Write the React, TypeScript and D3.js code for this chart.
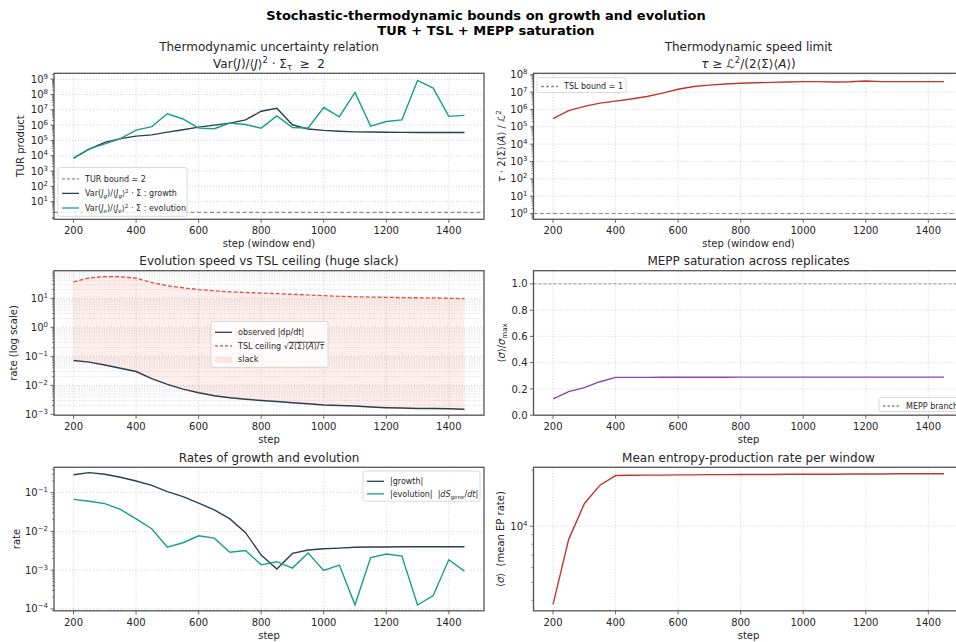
import React from 'react';
import * as d3 from 'd3';

const STEPS = [200, 250, 300, 350, 400, 450, 500, 550, 600, 650, 700, 750, 800, 850, 900, 950, 1000, 1050, 1100, 1150, 1200, 1250, 1300, 1350, 1400, 1450];
const X_TICKS = [200, 400, 600, 800, 1000, 1200, 1400];

const TUR_GROWTH = [7e3, 2.7e4, 7.4e4, 1.3e5, 1.9e5, 2.3e5, 3.5e5, 5e5, 7.4e5, 1e6, 1.35e6, 2.2e6, 8e6, 1.25e7, 1.05e6, 5.5e5, 4.5e5, 4e5, 3.6e5, 3.5e5, 3.4e5, 3.35e5, 3.3e5, 3.3e5, 3.3e5, 3.25e5];
const TUR_EVOL = [7e3, 2.8e4, 6e4, 1.3e5, 4.7e5, 8e5, 5.5e6, 2.5e6, 6.3e5, 5.8e5, 1.35e6, 1.1e6, 6.3e5, 4e6, 7e5, 6.5e5, 1.4e7, 3.5e6, 1.35e8, 8.5e5, 1.7e6, 2.2e6, 8.2e8, 2.6e8, 3.7e6, 4.3e6];
const TUR_BOUND = 2;

const TSL_PRODUCT = [2.9e5, 8.5e5, 1.5e6, 2.3e6, 3e6, 4e6, 5.5e6, 8.7e6, 1.45e7, 2.1e7, 2.5e7, 2.9e7, 3.2e7, 3.45e7, 3.6e7, 3.8e7, 4e7, 4e7, 3.8e7, 3.9e7, 4.3e7, 4e7, 4e7, 4e7, 4e7, 4e7];
const TSL_BOUND = 1;

const CEILING = [37, 50, 56, 55, 49, 35, 27, 23, 20, 18, 16.6, 15.8, 15, 14.5, 13.7, 13, 12.3, 11.7, 11.3, 11, 10.8, 10.5, 10.4, 10.3, 10, 9.7];
const OBSERVED = [0.072, 0.063, 0.05, 0.039, 0.03, 0.017, 0.0108, 0.0074, 0.0055, 0.0044, 0.0037, 0.0033, 0.003, 0.00275, 0.0025, 0.0023, 0.0021, 0.002, 0.00195, 0.0018, 0.0017, 0.00165, 0.0016, 0.00158, 0.00155, 0.0015];

const MEPP = [0.125, 0.18, 0.21, 0.255, 0.288, 0.288, 0.288, 0.289, 0.289, 0.289, 0.289, 0.289, 0.29, 0.29, 0.29, 0.29, 0.29, 0.29, 0.29, 0.29, 0.29, 0.29, 0.29, 0.29, 0.29, 0.29];
const MEPP_BRANCH = 1.0;
const MEPP_TICKS = [0, 0.2, 0.4, 0.6, 0.8, 1.0];

const RATE_GROWTH = [0.29, 0.33, 0.3, 0.25, 0.2, 0.155, 0.106, 0.079, 0.054, 0.036, 0.021, 0.0093, 0.00245, 0.00107, 0.0027, 0.0033, 0.00355, 0.0037, 0.0039, 0.00395, 0.00395, 0.004, 0.004, 0.004, 0.004, 0.004];
const RATE_EVOL = [0.067, 0.06, 0.052, 0.037, 0.021, 0.0117, 0.0039, 0.0051, 0.0077, 0.0067, 0.0029, 0.0032, 0.00137, 0.00165, 0.00113, 0.00275, 0.00098, 0.00135, 0.000127, 0.0021, 0.0026, 0.0023, 0.000126, 0.00022, 0.00185, 0.00094];

const EP_RATE = [3810, 8500, 13200, 16600, 18700, 18750, 18800, 18800, 18850, 18850, 18900, 18900, 18950, 18950, 18950, 19000, 19000, 19000, 19000, 19050, 19050, 19050, 19100, 19100, 19100, 19100];

const FONT = "'DejaVu Sans', 'Liberation Sans', sans-serif";
const C_NAVY = '#2c3e50';
const C_TEAL = '#16a085';
const C_RED = '#c0392b';
const C_CEIL = '#e74c3c';
const C_PURPLE = '#8e44ad';
const C_GRAY = '#8c8c8c';
const C_TEXT = '#262626';
const C_SPINE = '#555555';
const NB = '\u00a0';

type Part = { t: string; s?: 'sub' | 'sup'; i?: boolean; o?: boolean };

function rich(parts: Part[], size: number) {
  let cur = 0;
  return parts.map((p, k) => {
    const target = p.s === 'sup' ? -0.4 * size : p.s === 'sub' ? 0.22 * size : 0;
    const dy = target - cur;
    cur = target;
    return (
      <tspan key={k} dy={dy} fontSize={p.s ? size * 0.7 : undefined} fontStyle={p.i ? 'italic' : undefined}
        textDecoration={p.o ? 'overline' : undefined}>{p.t}</tspan>
    );
  });
}

type Box = { x0: number; x1: number; y0: number; y1: number };

const sup = (b: string, e: string): Part[] => [{ t: b }, { t: e, s: 'sup' }];
const pow10 = (e: number): Part[] => sup('10', e < 0 ? '\u2212' + Math.abs(e) : String(e));

function minorLog(lo: number, hi: number) {
  const out: number[] = [];
  for (let e = Math.floor(lo) - 1; e <= Math.ceil(hi); e++) {
    for (let k = 2; k <= 9; k++) {
      const v = k * Math.pow(10, e);
      const lv = Math.log10(v);
      if (lv >= lo && lv <= hi) out.push(v);
    }
  }
  return out;
}

type YTick = { v: number; label: Part[] };

function Axes(props: {
  id: string; box: Box; x: d3.ScaleLinear<number, number>; y: (v: number) => number;
  yTicks: YTick[]; yMinor?: number[]; minorGrid?: boolean;
  title: Part[][]; xlabel: string; ylabel: Part[]; ylabelX: number; children?: React.ReactNode;
}) {
  const { id, box, x, y, yTicks, yMinor = [], minorGrid, title, xlabel, ylabel, ylabelX, children } = props;
  const cx = (box.x0 + box.x1) / 2;
  const cy = (box.y0 + box.y1) / 2;
  const gridStyle = { stroke: '#b8b8b8', strokeWidth: 0.8, strokeDasharray: '1,2', opacity: 0.8 };
  return (
    <g>
      <defs>
        <clipPath id={id}>
          <rect x={box.x0} y={box.y0} width={box.x1 - box.x0} height={box.y1 - box.y0} />
        </clipPath>
      </defs>
      <rect x={box.x0} y={box.y0} width={box.x1 - box.x0} height={box.y1 - box.y0} fill="#fff" />
      <g clipPath={`url(#${id})`}>
        {X_TICKS.map(t => <line key={'gx' + t} x1={x(t)} x2={x(t)} y1={box.y0} y2={box.y1} {...gridStyle} />)}
        {yTicks.map(t => <line key={'gy' + t.v} x1={box.x0} x2={box.x1} y1={y(t.v)} y2={y(t.v)} {...gridStyle} />)}
        {minorGrid && yMinor.map(v => <line key={'gm' + v} x1={box.x0} x2={box.x1} y1={y(v)} y2={y(v)} stroke="#c4c4c4" strokeWidth={0.7} strokeDasharray="1,1.5" opacity={0.8} />)}
        {children}
      </g>
      <rect x={box.x0} y={box.y0} width={box.x1 - box.x0} height={box.y1 - box.y0} fill="none" stroke={C_SPINE} strokeWidth={1.3} />
      {X_TICKS.map(t => (
        <g key={'tx' + t}>
          <line x1={x(t)} x2={x(t)} y1={box.y1} y2={box.y1 + 3.5} stroke={C_SPINE} strokeWidth={0.9} />
          <text x={x(t)} y={box.y1 + 15} textAnchor="middle" fontSize={10} fill={C_TEXT}>{t}</text>
        </g>
      ))}
      {yMinor.map(v => <line key={'tm' + v} x1={box.x0 - 2} x2={box.x0} y1={y(v)} y2={y(v)} stroke={C_SPINE} strokeWidth={0.7} />)}
      {yTicks.map(t => (
        <g key={'ty' + t.v}>
          <line x1={box.x0 - 3.5} x2={box.x0} y1={y(t.v)} y2={y(t.v)} stroke={C_SPINE} strokeWidth={0.9} />
          <text x={box.x0 - 6} y={y(t.v) + 3.6} textAnchor="end" fontSize={10} fill={C_TEXT}>{rich(t.label, 10)}</text>
        </g>
      ))}
      {title.map((line, k) => (
        <text key={'tt' + k} x={cx} y={box.y0 - 5.5 - (title.length - 1 - k) * 16.5} textAnchor="middle" fontSize={12} fill={C_TEXT}>{rich(line, 12)}</text>
      ))}
      <text x={cx} y={box.y1 + 28} textAnchor="middle" fontSize={10} fill={C_TEXT}>{xlabel}</text>
      <text transform={`translate(${ylabelX + 3.5},${cy}) rotate(-90)`} textAnchor="middle" fontSize={10} fill={C_TEXT}>{rich(ylabel, 10)}</text>
    </g>
  );
}

type LegItem = { kind: 'line' | 'dash' | 'patch'; color: string; label: Part[]; dash?: string };

function Legend(props: { x: number; y: number; w: number; rowH: number; items: LegItem[]; size?: number }) {
  const { x, y, w, rowH, items, size = 8 } = props;
  const h = items.length * rowH + 5;
  return (
    <g>
      <rect x={x} y={y} width={w} height={h} rx={2} fill="#fff" fillOpacity={0.8} stroke="#d0d0d0" strokeWidth={0.8} />
      {items.map((it, k) => {
        const cy = y + 4 + rowH * k + rowH / 2;
        return (
          <g key={k}>
            {it.kind === 'patch'
              ? <rect x={x + 4} y={cy - 3} width={17} height={6} fill={it.color} fillOpacity={0.12} />
              : <line x1={x + 4} x2={x + 21} y1={cy} y2={cy} stroke={it.color} strokeWidth={1.3} strokeDasharray={it.dash} />}
            <text x={x + 27} y={cy + 2.9} fontSize={size} fill={C_TEXT}>{rich(it.label, size)}</text>
          </g>
        );
      })}
    </g>
  );
}

export default function App() {
  const W = 956, H = 642;
  const L: [number, number] = [54, 484];
  const R: [number, number] = [533.5, 963.5];
  const xDom: [number, number] = [137.5, 1512.5];
  const xL = d3.scaleLinear().domain(xDom).range(L);
  const xR = d3.scaleLinear().domain(xDom).range(R);
  const row1 = { y0: 73.3, y1: 219.3 };
  const row2 = { y0: 270.7, y1: 415.2 };
  const row3 = { y0: 467.3, y1: 610.8 };

  const bTL: Box = { x0: L[0], x1: L[1], ...row1 };
  const bTR: Box = { x0: R[0], x1: R[1], ...row1 };
  const bML: Box = { x0: L[0], x1: L[1], ...row2 };
  const bMR: Box = { x0: R[0], x1: R[1], ...row2 };
  const bBL: Box = { x0: L[0], x1: L[1], ...row3 };
  const bBR: Box = { x0: R[0], x1: R[1], ...row3 };

  const logY = (lo: number, hi: number, b: Box) => d3.scaleLog().domain([Math.pow(10, lo), Math.pow(10, hi)]).range([b.y1, b.y0]);
  const yTL = logY(-0.15, 9.38, bTL);
  const yTR = logY(-0.33, 8.08, bTR);
  const yML = logY(-3.03, 1.95, bML);
  const yBL = logY(-4.05, -0.345, bBL);
  const yBR = logY(3.546, 4.316, bBR);
  const yMR = d3.scaleLinear().domain([0, 1.1]).range([bMR.y1, bMR.y0]);

  const decades = (a: number, b: number): YTick[] => d3.range(a, b + 1).map(e => ({ v: Math.pow(10, e), label: pow10(e) }));

  const path = (x: (v: number) => number, y: (v: number) => number, vals: number[]) =>
    d3.line<number>().x((_, i) => x(STEPS[i])).y(d => y(d))(vals) || '';

  const area = d3.area<number>()
    .x((_, i) => xL(STEPS[i]))
    .y0((_, i) => yML(OBSERVED[i]))
    .y1(d => yML(d))(CEILING) || '';

  return (
    <svg width={W} height={H} style={{ position: 'absolute', left: 0, top: 0, fontFamily: FONT }} fontFamily={FONT}>
      <rect width={W} height={H} fill="#fff" />
      <text x={486} y={20} textAnchor="middle" fontSize={13} fontWeight="bold" fill="#000">Stochastic-thermodynamic bounds on growth and evolution</text>
      <text x={486} y={35} textAnchor="middle" fontSize={13} fontWeight="bold" fill="#000">TUR + TSL + MEPP saturation</text>

      {/* Top-left: TUR */}
      <Axes id="c1" box={bTL} x={xL} y={yTL} yTicks={decades(1, 9)} yMinor={minorLog(-0.15, 9.38)}
        title={[[{ t: 'Thermodynamic uncertainty relation' }], [{ t: 'Var(' }, { t: 'J', i: true }, { t: ')/\u27e8' }, { t: 'J', i: true }, { t: '\u27e9' }, { t: '2', s: 'sup' }, { t: ' \u00b7 \u03a3' }, { t: '\u03c4', s: 'sub' }, { t: NB + NB + '\u2265' + NB + NB + '2' }]]}
        xlabel="step (window end)" ylabel={[{ t: 'TUR product' }]} ylabelX={20.5}>
        <line x1={bTL.x0} x2={bTL.x1} y1={yTL(TUR_BOUND)} y2={yTL(TUR_BOUND)} stroke={C_GRAY} strokeWidth={1.1} strokeDasharray="4,2.5" />
        <path d={path(xL, yTL, TUR_GROWTH)} fill="none" stroke={C_NAVY} strokeWidth={1.4} />
        <path d={path(xL, yTL, TUR_EVOL)} fill="none" stroke={C_TEAL} strokeWidth={1.4} />
      </Axes>
      <Legend x={58} y={167.5} w={129} rowH={14.6} items={[
        { kind: 'dash', color: C_GRAY, dash: '3,2', label: [{ t: 'TUR bound = 2' }] },
        { kind: 'line', color: C_NAVY, label: [{ t: 'Var(' }, { t: 'J', i: true }, { t: 'g', s: 'sub', i: true }, { t: ')/\u27e8' }, { t: 'J', i: true }, { t: 'g', s: 'sub', i: true }, { t: '\u27e9' }, { t: '2', s: 'sup' }, { t: ' \u00b7 \u03a3 : growth' }] },
        { kind: 'line', color: C_TEAL, label: [{ t: 'Var(' }, { t: 'J', i: true }, { t: 'e', s: 'sub', i: true }, { t: ')/\u27e8' }, { t: 'J', i: true }, { t: 'e', s: 'sub', i: true }, { t: '\u27e9' }, { t: '2', s: 'sup' }, { t: ' \u00b7 \u03a3 : evolution' }] },
      ]} />

      {/* Top-right: TSL */}
      <Axes id="c2" box={bTR} x={xR} y={yTR} yTicks={decades(0, 8)} yMinor={minorLog(-0.33, 8.08)}
        title={[[{ t: 'Thermodynamic speed limit' }], [{ t: '\u03c4', i: true }, { t: ' \u2265 ' }, { t: '\u2112', i: true }, { t: '2', s: 'sup' }, { t: '/(2\u27e8\u03a3\u27e9\u27e8' }, { t: 'A', i: true }, { t: '\u27e9)' }]]}
        xlabel="step (window end)" ylabel={[{ t: '\u03c4', i: true }, { t: ' \u00b7 2\u27e8\u03a3\u27e9\u27e8' }, { t: 'A', i: true }, { t: '\u27e9 / ' }, { t: '\u2112', i: true }, { t: '2', s: 'sup' }]} ylabelX={501.5}>
        <line x1={bTR.x0} x2={bTR.x1} y1={yTR(TSL_BOUND)} y2={yTR(TSL_BOUND)} stroke={C_GRAY} strokeWidth={1.1} strokeDasharray="4,2.5" />
        <path d={path(xR, yTR, TSL_PRODUCT)} fill="none" stroke={C_RED} strokeWidth={1.4} />
      </Axes>
      <Legend x={537} y={77.5} w={89} rowH={10} items={[
        { kind: 'dash', color: C_GRAY, dash: '3,2', label: [{ t: 'TSL bound = 1' }] },
      ]} />

      {/* Middle-left */}
      <Axes id="c3" box={bML} x={xL} y={yML} yTicks={decades(-3, 1)} yMinor={minorLog(-3.03, 1.95)} minorGrid
        title={[[{ t: 'Evolution speed vs TSL ceiling (huge slack)' }]]}
        xlabel="step" ylabel={[{ t: 'rate (log scale)' }]} ylabelX={13.3}>
        <path d={area} fill={C_CEIL} fillOpacity={0.1} />
        <path d={path(xL, yML, CEILING)} fill="none" stroke={C_CEIL} strokeWidth={1.3} strokeDasharray="4,2" />
        <path d={path(xL, yML, OBSERVED)} fill="none" stroke={C_NAVY} strokeWidth={1.5} />
      </Axes>
      <Legend x={211} y={321.5} w={117} rowH={13.6} items={[
        { kind: 'line', color: C_NAVY, label: [{ t: 'observed |dp/dt|' }] },
        { kind: 'dash', color: C_CEIL, dash: '3,2', label: [{ t: 'TSL ceiling \u221a' }, { t: '2\u27e8\u03a3\u27e9\u27e8', o: true }, { t: 'A', i: true, o: true }, { t: '\u27e9/', o: true }, { t: '\u03c4', i: true, o: true }] },
        { kind: 'patch', color: C_CEIL, label: [{ t: 'slack' }] },
      ]} />

      {/* Middle-right */}
      <Axes id="c4" box={bMR} x={xR} y={yMR} yTicks={MEPP_TICKS.map(v => ({ v, label: [{ t: v.toFixed(1) }] }))}
        title={[[{ t: 'MEPP saturation across replicates' }]]}
        xlabel="step" ylabel={[{ t: '\u27e8' }, { t: '\u03c3', i: true }, { t: '\u27e9/' }, { t: '\u03c3', i: true }, { t: 'max', s: 'sub' }]} ylabelX={501.5}>
        <line x1={bMR.x0} x2={bMR.x1} y1={yMR(MEPP_BRANCH)} y2={yMR(MEPP_BRANCH)} stroke={C_GRAY} strokeWidth={0.9} strokeDasharray="3,2" />
        <path d={path(xR, yMR, MEPP)} fill="none" stroke={C_PURPLE} strokeWidth={1.4} />
      </Axes>
      <Legend x={879} y={397.5} w={90} rowH={9} items={[
        { kind: 'dash', color: C_GRAY, dash: '2.5,2', label: [{ t: 'MEPP branch' }] },
      ]} />

      {/* Bottom-left */}
      <Axes id="c5" box={bBL} x={xL} y={yBL} yTicks={decades(-4, -1)} yMinor={minorLog(-4.05, -0.345)}
        title={[[{ t: 'Rates of growth and evolution' }]]}
        xlabel="step" ylabel={[{ t: 'rate' }]} ylabelX={16}>
        <path d={path(xL, yBL, RATE_GROWTH)} fill="none" stroke={C_NAVY} strokeWidth={1.4} />
        <path d={path(xL, yBL, RATE_EVOL)} fill="none" stroke={C_TEAL} strokeWidth={1.4} />
      </Axes>
      <Legend x={363} y={471} w={117} rowH={12.6} items={[
        { kind: 'line', color: C_NAVY, label: [{ t: '|growth|' }] },
        { kind: 'line', color: C_TEAL, label: [{ t: '|evolution|' + NB + NB + '|' }, { t: 'dS', i: true }, { t: 'gene', s: 'sub' }, { t: '/' }, { t: 'dt', i: true }, { t: '|' }] },
      ]} />

      {/* Bottom-right */}
      <Axes id="c6" box={bBR} x={xR} y={yBR} yTicks={[{ v: 1e4, label: pow10(4) }]} yMinor={minorLog(3.546, 4.316)}
        title={[[{ t: 'Mean entropy-production rate per window' }]]}
        xlabel="step" ylabel={[{ t: '\u27e8' }, { t: '\u03c3', i: true }, { t: '\u27e9' + NB + NB + '(mean EP rate)' }]} ylabelX={500.7}>
        <path d={path(xR, yBR, EP_RATE)} fill="none" stroke={C_RED} strokeWidth={1.4} />
      </Axes>
    </svg>
  );
}
